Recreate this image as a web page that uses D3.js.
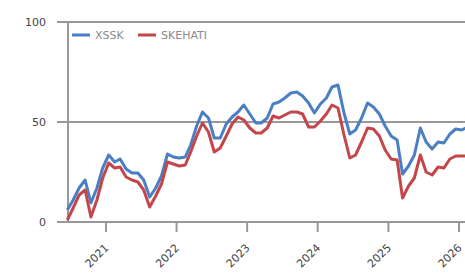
<!DOCTYPE html>
<meta charset="utf-8">
<style>
    body { margin: 0; background: #fff; }
    text { font: 11px "DejaVu Sans", sans-serif; fill: #444; }
    .legend text { fill: #8a8a8a; }
    .grid { stroke: #999; stroke-width: 2; }
    .line { fill: none; stroke-width: 3; stroke-linejoin: round; }
</style>
<svg width="465" height="273"></svg>
<script src="https://cdn.jsdelivr.net/npm/d3@7"></script>
<script>

    // monthly points, mid-month, Jun 2020 .. Feb 2026
    var startMonth = "2020-06";
    var xssk = [6, 11, 17, 21, 9.5, 17, 27, 33.5, 30, 31.5, 26.5, 24.5, 24.5, 21, 12.5, 17,
        23, 34, 32.5, 32, 32.5, 38.5, 48, 55, 52, 42, 42, 49, 52.5, 55, 58.5, 54,
        49.5, 49.5, 52, 59, 60, 62, 64.5, 65, 63, 59.5, 54.5, 59, 62, 67.5, 68.5, 55,
        44, 46, 52, 59.5, 57.5, 54, 48, 43, 41, 24, 28, 33.5, 47, 40, 36.5, 40,
        39.5, 44, 46.5, 46, 47.5];
    var skehati = [1, 7, 13.5, 16, 2.5, 11, 22, 29.5, 27, 27.5, 22.5, 21, 20, 16, 7.5, 13,
        19, 30, 29, 28, 28.5, 35, 43, 49.5, 45, 35, 37, 43, 49, 52.5, 51, 47,
        44.5, 44.5, 47, 53, 52, 53.5, 55, 55, 54, 47.5, 47.5, 50.5, 54, 58.5, 57, 44,
        32, 33.5, 40, 47, 46.5, 43, 36, 31.5, 31, 12, 18, 22, 33.5, 25, 23.5, 27.5,
        27, 31.5, 33, 33, 33];
    var yTicks = [0, 50, 100];
    var years = [2021, 2022, 2023, 2024, 2025, 2026];
    var seriesNames = ["XSSK", "SKEHATI"];
    var colors = ["#4a7fc4", "#c4464a"];

    var svg = d3.select("svg"),
        width = +svg.attr("width");

    var parse = d3.timeParse("%Y-%m");
    var start = parse(startMonth);
    var dates = xssk.map(function(d, i) { return d3.timeDay.offset(d3.timeMonth.offset(start, i), 14); });

    var x = d3.scaleTime()
        .domain([new Date(2021, 0, 1), new Date(2026, 0, 1)])
        .range([106, 459]);
    var y = d3.scaleLinear().domain([0, 100]).range([222, 22]);

    // horizontal grid + y labels
    svg.selectAll(".grid")
        .data(yTicks)
        .enter().append("line")
        .attr("class", "grid")
        .attr("x1", 57).attr("x2", width)
        .attr("y1", function(d) { return y(d); })
        .attr("y2", function(d) { return y(d); });

    svg.selectAll(".ylab")
        .data(yTicks)
        .enter().append("text")
        .attr("class", "ylab")
        .attr("x", 46)
        .attr("y", function(d) { return y(d); })
        .attr("dy", "0.35em")
        .attr("text-anchor", "end")
        .text(function(d) { return d; });

    // y axis line
    svg.append("line")
        .attr("class", "grid")
        .attr("x1", 68).attr("x2", 68)
        .attr("y1", y(100)).attr("y2", y(0));

    // x ticks
    var xt = svg.selectAll(".xt")
        .data(years)
        .enter().append("g")
        .attr("class", "xt")
        .attr("transform", function(d) { return "translate(" + x(new Date(d, 0, 1)) + "," + y(0) + ")"; });
    xt.append("line")
        .attr("class", "grid")
        .attr("y1", 0).attr("y2", 10);
    xt.append("text")
        .attr("transform", "translate(-2,21) rotate(-45)")
        .attr("text-anchor", "end")
        .attr("dy", "0.7em")
        .text(function(d) { return d; });

    // lines
    var line = d3.line()
        .x(function(d, i) { return x(dates[i]); })
        .y(function(d) { return y(d); });

    [xssk, skehati].forEach(function(s, i) {
        svg.append("path")
            .datum(s)
            .attr("class", "line")
            .attr("stroke", colors[i])
            .attr("d", line);
    });

    // legend
    var lg = svg.append("g").attr("class", "legend").attr("transform", "translate(72,35)");
    var lx = [0, 66];
    seriesNames.forEach(function(n, i) {
        lg.append("line")
            .attr("x1", lx[i]).attr("x2", lx[i] + 18)
            .attr("stroke", colors[i])
            .attr("stroke-width", 3);
        lg.append("text")
            .attr("x", lx[i] + 23)
            .attr("dy", "0.35em")
            .text(n);
    });
</script>
